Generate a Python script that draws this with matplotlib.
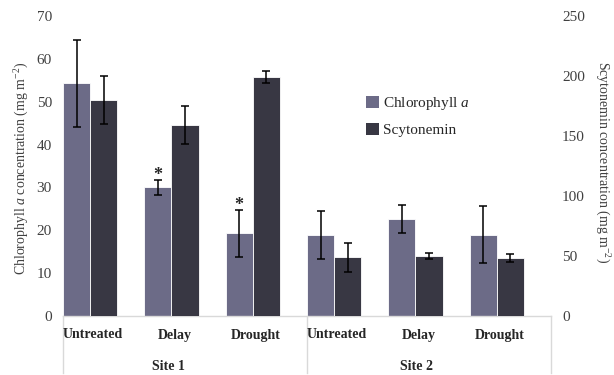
import matplotlib
matplotlib.use("Agg")
import matplotlib.pyplot as plt
import matplotlib.transforms as mtransforms
from matplotlib.patches import Patch
import numpy as np

plt.rcParams['font.family'] = ['Liberation Serif', 'DejaVu Serif']
plt.rcParams['mathtext.fontset'] = 'custom'
plt.rcParams['mathtext.rm'] = 'Liberation Serif'
plt.rcParams['mathtext.it'] = 'Liberation Serif:italic'

treatments = ["Untreated", "Delay", "Drought", "Untreated", "Delay", "Drought"]
sites = ["Site 1", "Site 2"]
chl = [54.3, 30.0, 19.3, 19.0, 22.6, 19.0]
chl_err = [10.2, 1.8, 5.5, 5.6, 3.3, 6.6]
scy = [180, 159, 199, 49, 50, 48.5]
scy_err = [20, 16, 5, 12, 2.5, 3.5]
significant = [False, True, True, False, False, False]

chl_color = '#6c6b87'
scy_color = '#383743'
tick_color = '#404040'

fig = plt.figure(figsize=(6.14, 3.75), dpi=100)
ax = fig.add_axes([63/614, 1-316/375, 488/614, 300/375])
ax2 = ax.twinx()

x = np.arange(len(treatments))
w = 1/3
ax.bar(x + w/2, chl, width=w, color=chl_color, edgecolor='white', linewidth=0.6, zorder=2)
ax.errorbar(x + w/2, chl, yerr=chl_err, fmt='none', ecolor='black', elinewidth=1.1,
            capsize=3, capthick=1.1, zorder=3)
ax2.bar(x + 1.5*w, scy, width=w, color=scy_color, edgecolor='white', linewidth=0.6, zorder=2)
ax2.errorbar(x + 1.5*w, scy, yerr=scy_err, fmt='none', ecolor='black', elinewidth=1.1,
             capsize=3, capthick=1.1, zorder=3)

for xi, v, e, s in zip(x, chl, chl_err, significant):
    if s:
        ax.text(xi + w/2, v + e + 1.0, '*', ha='center', va='center', fontsize=13,
                fontweight='bold', color='#262626')

ax.set_xlim(0, 6)
ax.set_ylim(0, 70)
ax2.set_ylim(0, 250)
ax.set_yticks(np.arange(0, 71, 10))
ax2.set_yticks(np.arange(0, 251, 50))
ax.set_xticks([])

for a in (ax, ax2):
    for sp in ('left', 'right', 'top'):
        a.spines[sp].set_visible(False)
    a.spines['bottom'].set_color('#d9d9d9')
    a.spines['bottom'].set_linewidth(1.0)
    a.tick_params(axis='y', length=0, labelsize=11, labelcolor=tick_color, pad=8)
ax2.spines['bottom'].set_visible(False)

# multi-level category axis
trans = mtransforms.blended_transform_factory(ax.transData, ax.transAxes)
for xi, t in zip(x, treatments):
    ax.text(xi + 0.37, -19/300, t, transform=trans, ha='center', va='center',
            fontsize=10, fontweight='bold', color='#262626')
for xs, s in zip([1.3, 4.35], sites):
    ax.text(xs, -50/300, s, transform=trans, ha='center', va='center',
            fontsize=10, fontweight='bold', color='#262626')
for xv in [0, 3, 6]:
    ax.plot([xv, xv], [0, -57/300], transform=trans, color='#d9d9d9', lw=1.0,
            clip_on=False)

fig.text(22/614, 1-168/375, r'Chlorophyll $\it{a}$ concentration (mg m$^{-2}$)',
         rotation=90, ha='center', va='center', fontsize=10, color=tick_color)
fig.text(602/614, 1-162/375, r'Scytonemin concentration (mg m$^{-2}$)',
         rotation=-90, ha='center', va='center', fontsize=10, color=tick_color)

handles = [Patch(facecolor=chl_color), Patch(facecolor=scy_color)]
labels = [r'Chlorophyll $\it{a}$', 'Scytonemin']
ax2.legend(handles, labels, loc='upper left', bbox_to_anchor=(366/614, 1-95/375),
           bbox_transform=fig.transFigure, frameon=False, fontsize=11,
           handlelength=0.85, handleheight=0.85, handletextpad=0.25,
           labelspacing=0.7, borderpad=0, borderaxespad=0, labelcolor='#262626')

fig.savefig('out.png', dpi=100)
